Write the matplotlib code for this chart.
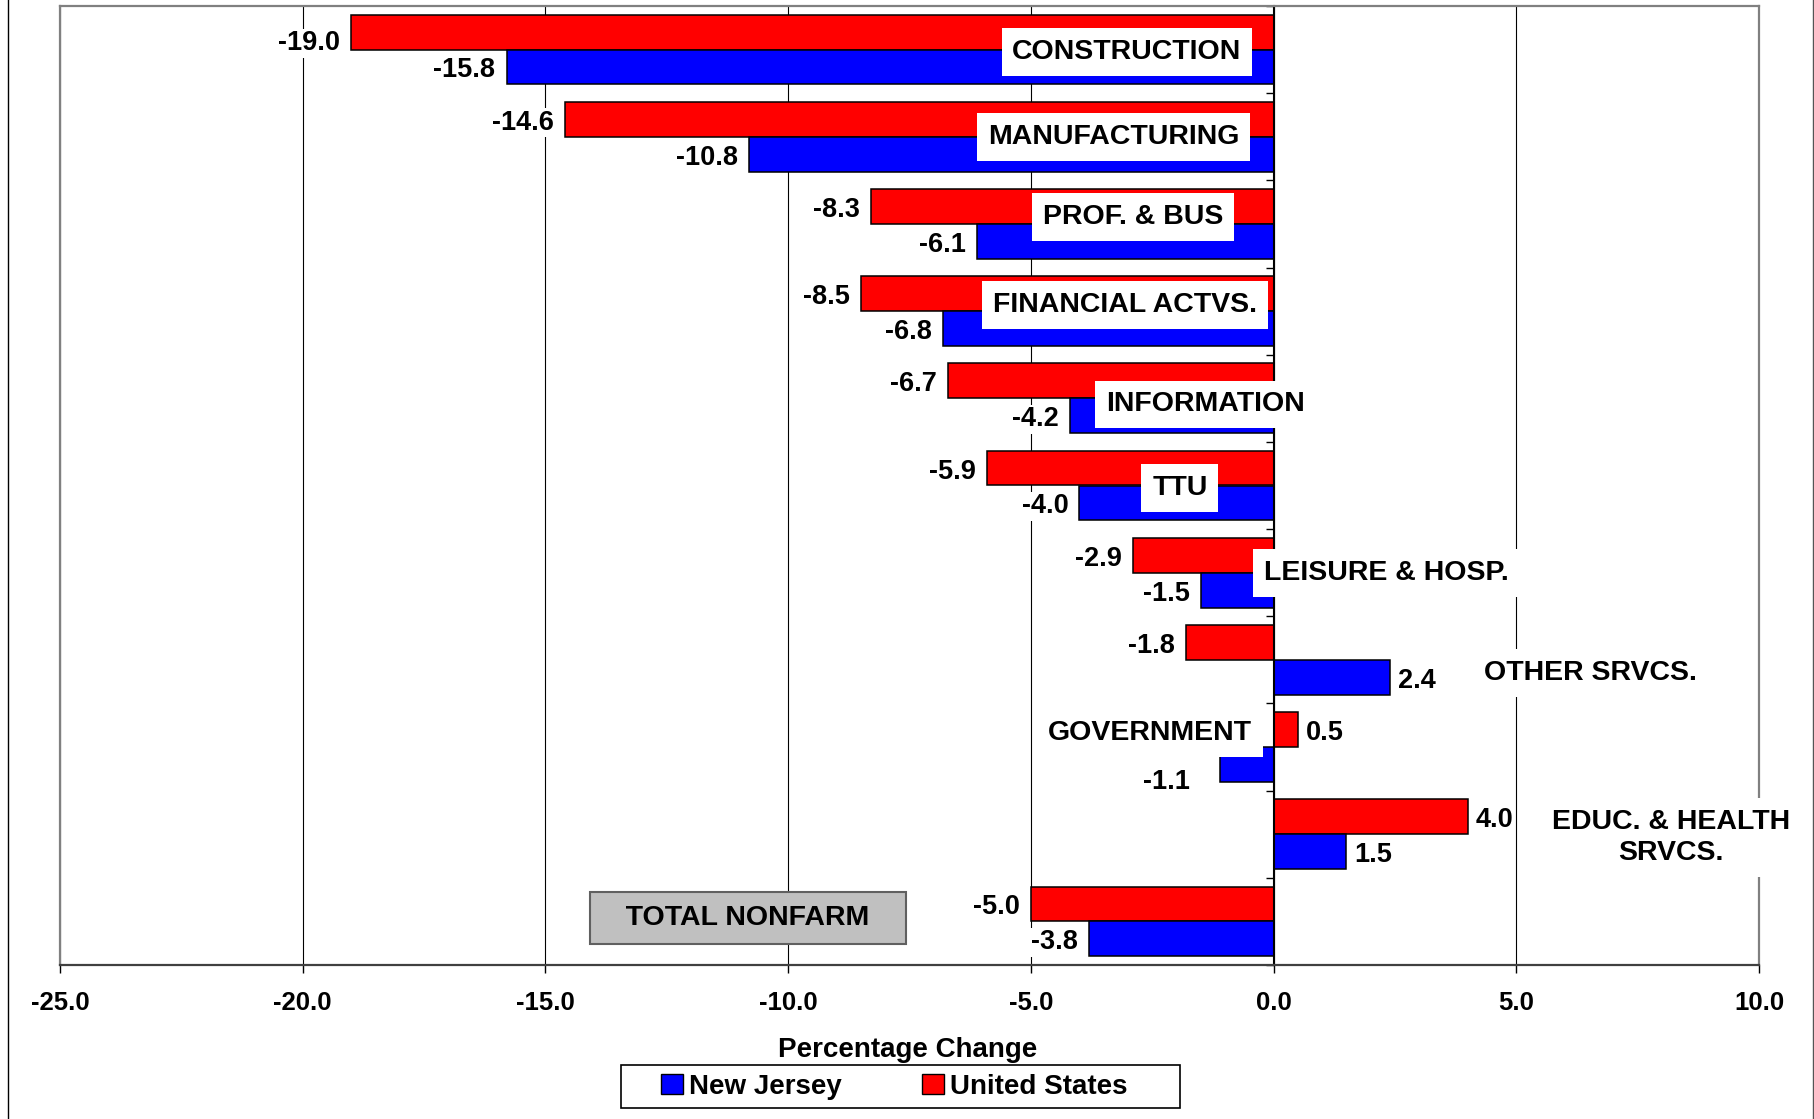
import numpy as np
import matplotlib
matplotlib.use('Agg')
from matplotlib import pyplot as plt
from matplotlib.lines import Line2D
from matplotlib.patches import Patch, Rectangle

plt.rcParams['font.family'] = ['Liberation Sans', 'DejaVu Sans']
plt.rcParams['font.weight'] = 'bold'

### data (percentage change, top to bottom)
categories = ['CONSTRUCTION', 'MANUFACTURING', 'PROF. & BUS', 'FINANCIAL ACTVS.',
              'INFORMATION', 'TTU', 'LEISURE & HOSP.', 'OTHER SRVCS.',
              'GOVERNMENT', 'EDUC. & HEALTH\nSRVCS.', 'TOTAL NONFARM']
us_change = [-19.0, -14.6, -8.3, -8.5, -6.7, -5.9, -2.9, -1.8, 0.5, 4.0, -5.0]
nj_change = [-15.8, -10.8, -6.1, -6.8, -4.2, -4.0, -1.5, 2.4, -1.1, 1.5, -3.8]
x_ticks = [-25, -20, -15, -10, -5, 0, 5, 10]

# where the category names sit (data coords), as in the original chart
label_x = [-3.02, -3.29, -2.90, -3.06, -1.41, -1.93, 2.33, 6.52, -2.55, 8.19, -10.83]
label_y = [0.03, 1.00, 1.92, 2.93, 4.07, 5.03, 6.00, 7.15, 7.84, 9.04, 9.96]
# a couple of value labels were moved in the original (points)
us_nudge = {0: (0, -5.5)}
nj_nudge = {8: (-14, -10)}

W, H = 1814, 1119
fig = plt.figure(figsize=(W / 100, H / 100), dpi=100)
ax = fig.add_axes([60 / W, (H - 965) / H, (1759 - 60) / W, 959 / H])

y = np.arange(len(categories))
ax.barh(y - 0.2, us_change, height=0.4, color='#FF0000', edgecolor='black', lw=1.1, zorder=2)
ax.barh(y + 0.2, nj_change, height=0.4, color='#0000FF', edgecolor='black', lw=1.1, zorder=2)

# value labels
for yy, vals, nudge in ((y - 0.2, us_change, us_nudge), (y + 0.2, nj_change, nj_nudge)):
    for i, (yi, v) in enumerate(zip(yy, vals)):
        dx, dy = nudge.get(i, (0, 0))
        ax.annotate(f'{v:.1f}', (v, yi),
                    xytext=((-8 if v < 0 else 6) + dx, -2.5 + dy),
                    textcoords='offset points', ha='right' if v < 0 else 'left',
                    va='center', fontsize=19.5, zorder=6,
                    bbox=dict(fc='white', ec='none', pad=1))

# category names in white boxes
for name, lx, ly in zip(categories, label_x, label_y):
    if name == 'TOTAL NONFARM':
        ax.text(lx, ly, '   ' + name + '   ', ha='center', va='center', fontsize=20.5,
                zorder=5,
                bbox=dict(boxstyle='square,pad=0.45', fc='#C0C0C0', ec='#606060', lw=1.5))
    else:
        ax.text(lx, ly, name, ha='center', va='center', fontsize=20.5, zorder=5,
                linespacing=1.25,
                bbox=dict(boxstyle='square,pad=0.38', fc='white', ec='none'))

ax.set_xlim(-25, 10)
ax.set_ylim(len(categories) - 0.5, -0.5)
ax.set_xticks(x_ticks)
ax.set_xticklabels([f'{t:.1f}' for t in x_ticks])
ax.tick_params(axis='x', length=6, width=1, pad=13, labelsize=18.5, color='black')
ax.set_yticks(np.arange(-0.5, len(categories), 1.0))
ax.set_yticklabels([])
ax.tick_params(axis='y', direction='out', length=6, width=1, color='black')
ax.grid(axis='x', color='black', lw=0.8)
ax.set_axisbelow(True)

ax.spines['left'].set_position(('data', 0))
ax.spines['left'].set_color('black')
ax.spines['left'].set_linewidth(1.5)
for s in ('top', 'right'):
    ax.spines[s].set_color('#808080')
    ax.spines[s].set_linewidth(1.6)
ax.spines['bottom'].set_color('#404040')
ax.spines['bottom'].set_linewidth(1.6)
ax.add_line(Line2D([0, 0], [0, 1], transform=ax.transAxes, color='#808080', lw=1.6,
                   clip_on=False))

fig.text(908 / W, 1 - 1050 / H, 'Percentage Change', ha='center', va='center', fontsize=20)

handles = [Patch(fc='#0000FF', ec='black', lw=1), Patch(fc='#FF0000', ec='black', lw=1)]
leg = fig.legend(handles, ['New Jersey', 'United States'], loc='center',
                 bbox_to_anchor=(894 / W, 1 - 1086.5 / H), ncol=2, fontsize=20,
                 frameon=False, handlelength=0.8, handleheight=0.75, handletextpad=0.2,
                 columnspacing=2.9, borderpad=0.3)
# legend frame is wider than its contents
fig.add_artist(Rectangle((621 / W, 1 - 1108 / H), 559 / W, 43 / H, transform=fig.transFigure,
                         fill=False, ec='black', lw=1.2))

# outer chart border (left and right edges)
fig.add_artist(Line2D([7.5 / W] * 2, [0, 1], color='black', lw=1))
fig.add_artist(Line2D([1812.5 / W] * 2, [0, 1], color='#555555', lw=1))

fig.savefig('out.png', dpi=100)
